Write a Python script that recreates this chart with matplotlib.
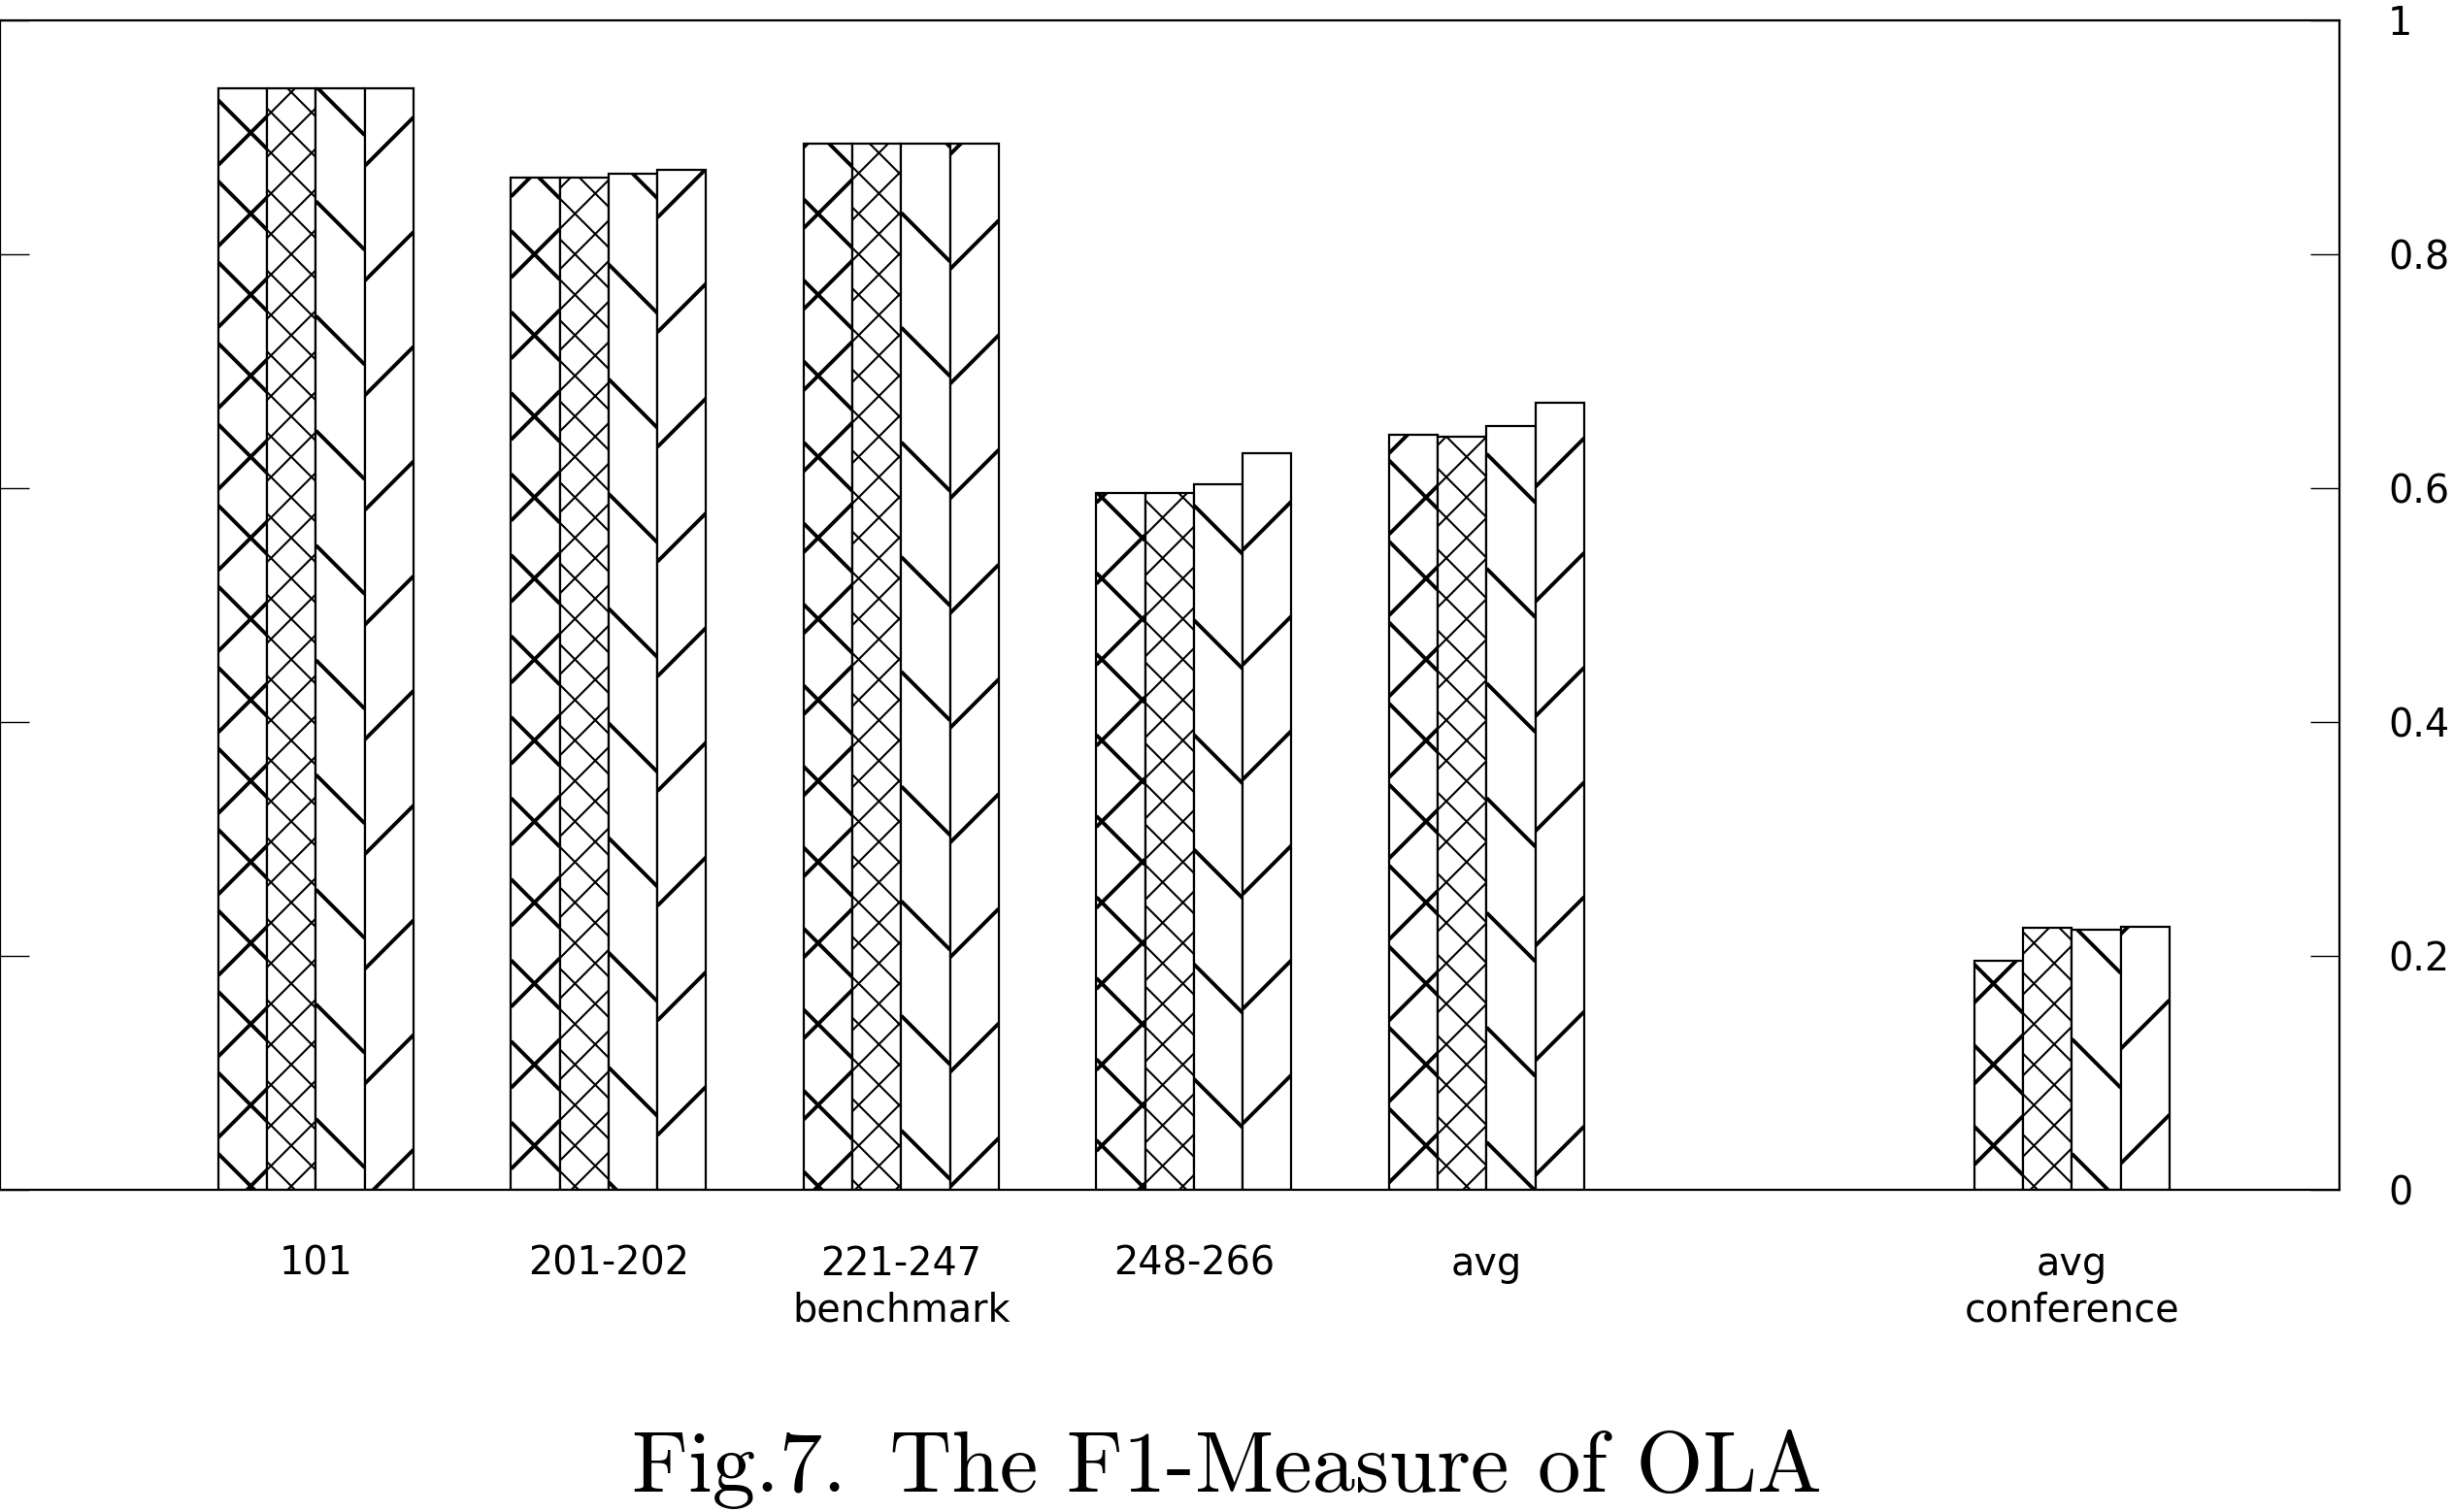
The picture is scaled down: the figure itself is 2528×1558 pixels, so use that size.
import matplotlib
matplotlib.use("Agg")
import matplotlib.pyplot as plt
import numpy as np
from matplotlib.collections import LineCollection
from matplotlib.transforms import IdentityTransform

categories = ["101", "201-202", "221-247\nbenchmark", "248-266", "avg", "avg\nconference"]
series_1 = [0.942, 0.865, 0.894, 0.596, 0.645, 0.196]
series_2 = [0.942, 0.865, 0.894, 0.596, 0.644, 0.224]
series_3 = [0.942, 0.869, 0.894, 0.603, 0.653, 0.222]
series_4 = [0.942, 0.872, 0.894, 0.630, 0.673, 0.225]
yticks = [0, 0.2, 0.4, 0.6, 0.8, 1]
ytick_labels = ["0", "0.2", "0.4", "0.6", "0.8", "1"]
title = "Fig.7.\u2002The F1-Measure of OLA"

W, H = 2528, 1558
DPI = 100


def hatch_bar(ax, patch, families, period, lw):
    # pattern lines in pixel space, clipped to the bar
    bb = patch.get_window_extent()
    x0, y0, x1, y1 = bb.x0, bb.y0, bb.x1, bb.y1
    segs = []
    for kind, offset in families:
        if kind == "/":  # y - x = c
            cmin, cmax = y0 - x1, y1 - x0
        else:  # y + x = c
            cmin, cmax = y0 + x0, y1 + x1
        k0 = int(np.floor((cmin - offset) / period))
        k1 = int(np.ceil((cmax - offset) / period))
        for k in range(k0, k1 + 1):
            c = offset + k * period
            if kind == "/":
                segs.append([(x0, x0 + c), (x1, x1 + c)])
            else:
                segs.append([(x0, c - x0), (x1, c - x1)])
    lc = LineCollection(segs, colors="black", linewidths=lw,
                        transform=IdentityTransform(), zorder=2.5)
    ax.add_collection(lc, autolim=False)
    # set after add_collection, otherwise the axes patch replaces it
    lc.set_clip_path(patch.get_path(), patch.get_transform())


fig = plt.figure(figsize=(W / DPI, H / DPI), dpi=DPI)
ax = fig.add_axes([0.0, 0.2133, 0.9533, 0.7734])

xpos = np.arange(len(categories), dtype=float)
xpos[-1] += 1  # empty slot before the conference group
width = 1 / 6

ax.set_xlim(-1.0796, 6.9138)
ax.set_ylim(0, 1)

all_series = [series_1, series_2, series_3, series_4]
patterns = [
    ([("/", 1497.0), ("\\", 1512.6)], 83.5, 2.8),
    ([("/", 1497.0), ("\\", 1512.6)], 41.75, 1.5),
    ([("\\", 1558.0)], 118.2, 2.8),
    ([("/", 1484.0)], 118.2, 2.8),
]
for i, vals in enumerate(all_series):
    bars = ax.bar(xpos + (i - 1.5) * width, vals, width, color="white",
                  edgecolor="black", linewidth=1.6, zorder=2)
    fams, period, lw = patterns[i]
    for p in bars.patches:
        hatch_bar(ax, p, fams, period, lw)

for s in ax.spines.values():
    s.set_linewidth(1.6)
    s.set_zorder(3)

ax.set_xticks(xpos)
ax.set_xticklabels(categories, fontsize=28.6, linespacing=1.25)
ax.tick_params(axis="x", length=0, pad=41)

ax.set_yticks(yticks)
ax.set_yticklabels(ytick_labels, fontsize=28.6)
ax.tick_params(axis="y", direction="in", left=True, right=True,
               labelleft=False, labelright=True, length=21.6, width=1.0, pad=36)

fig.text(0.5, 0.0135, title, ha="center", va="baseline",
         fontsize=64, family=["cmr10", "DejaVu Serif"])

fig.savefig("out.png", dpi=DPI)
